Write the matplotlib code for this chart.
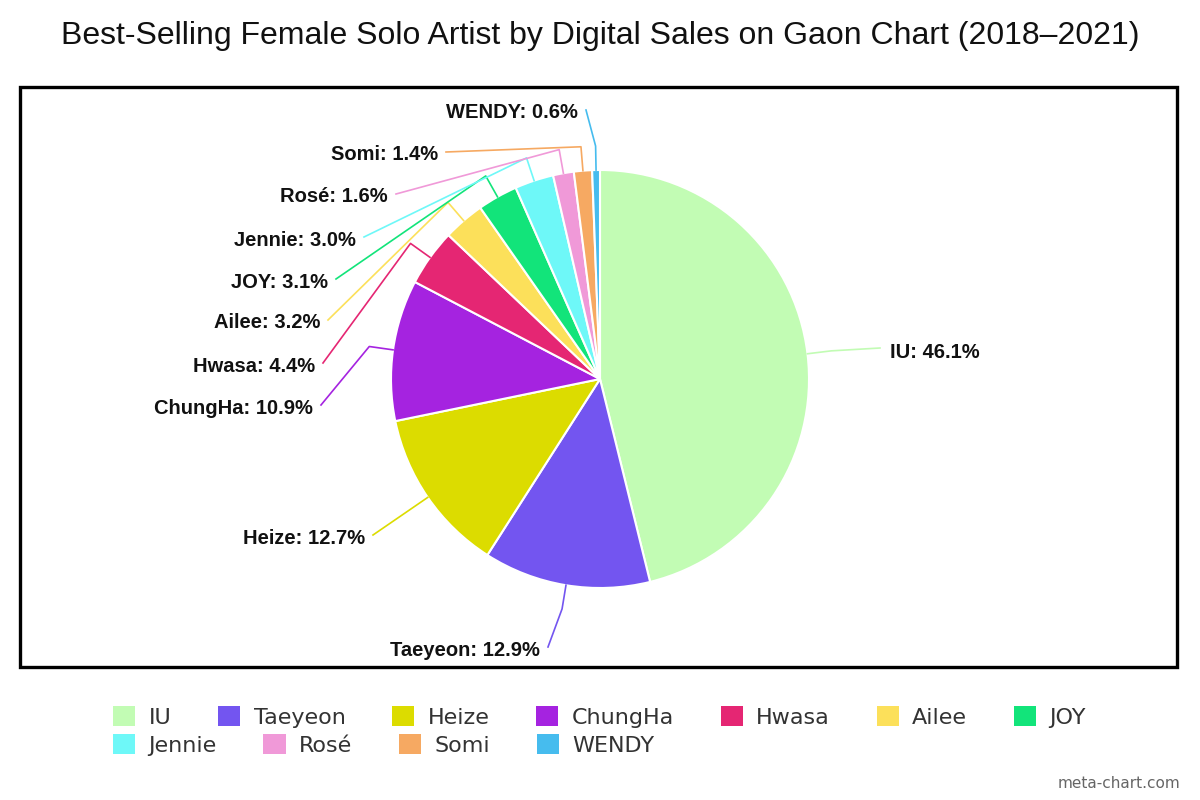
import matplotlib
matplotlib.use("Agg")

import matplotlib.pyplot as plt
import numpy as np
from matplotlib.patches import Rectangle

# data
artists = ["IU", "Taeyeon", "Heize", "ChungHa", "Hwasa", "Ailee", "JOY",
           "Jennie", "Rosé", "Somi", "WENDY"]
shares = [46.1, 12.9, 12.7, 10.9, 4.4, 3.2, 3.1, 3.0, 1.6, 1.4, 0.6]
colors = ["#c2fcb4", "#7355f0", "#dcdc00", "#a523e0", "#e52673", "#fce05a",
          "#12e47a", "#6ef8f8", "#f099d8", "#f6a962", "#46bcee"]

# label anchors in pixel coords (top-left origin): x, y, alignment
label_pos = [
    (890, 352, "left"),
    (540, 650, "right"),
    (365, 538, "right"),
    (313, 408, "right"),
    (315, 366, "right"),
    (320, 323, "right"),
    (328, 282, "right"),
    (356, 240, "right"),
    (388, 197, "right"),
    (438, 155, "right"),
    (578, 113, "right"),
]

W, H = 1200, 800
cx, cy, R = 600, 379, 209

fig = plt.figure(figsize=(12, 8), dpi=100)
ax = fig.add_axes([0, 0, 1, 1])


def fy(y):
    return H - y


wedges, _ = ax.pie(shares, colors=colors, startangle=90, counterclock=False,
                   center=(cx, fy(cy)), radius=R,
                   wedgeprops=dict(edgecolor="white", linewidth=1.5))
ax.set_xlim(0, W)
ax.set_ylim(0, H)
ax.set_aspect("equal")
ax.axis("off")

# outer frame
ax.add_patch(Rectangle((20, fy(667)), 1157, 580, fill=False,
                       edgecolor="black", linewidth=2.4, clip_on=False))

# title
ax.text(600, fy(44), "Best-Selling Female Solo Artist by Digital Sales on Gaon Chart (2018–2021)",
        ha="center", va="baseline", fontsize=23, family="Liberation Sans", color="#111111")

# labels with leader lines
total = sum(shares)
cum = 0
for name, v, col, (lx, ly, ha) in zip(artists, shares, colors, label_pos):
    mid = 90 - 360 * (cum + v / 2) / total
    cum += v
    t = np.deg2rad(mid)
    ax_, ay_ = cx + R * np.cos(t), fy(cy) + R * np.sin(t)
    bx, by = cx + (R + 24) * np.cos(t), fy(cy) + (R + 24) * np.sin(t)
    if ha == "right":
        ex, ey = lx + 8, fy(ly - 3)
    else:
        ex, ey = lx - 10, fy(ly - 4)
    ax.plot([ax_, bx, ex], [ay_, by, ey], color=col, lw=1.2,
            solid_joinstyle="round")
    ax.text(lx, fy(ly), f"{name}: {v}%", ha=ha, va="center", fontsize=14.5,
            fontweight="bold", family="Liberation Sans", color="#111111")

# legend, two rows laid out like a flow
handles = [Rectangle((0, 0), 1, 1, facecolor=c, edgecolor="none") for c in colors]
leg_kw = dict(frameon=False, handlelength=1.0, handleheight=1.0,
              handletextpad=0.6, columnspacing=2.1, borderaxespad=0,
              borderpad=0, prop={"family": "DejaVu Sans", "size": 16},
              labelcolor="#333333")
leg1 = ax.legend(handles[:7], artists[:7], ncol=7, loc="upper left",
                 bbox_to_anchor=(113 / W, 1 - 706 / H), **leg_kw)
ax.add_artist(leg1)
ax.legend(handles[7:], artists[7:], ncol=4, loc="upper left",
          bbox_to_anchor=(113 / W, 1 - 734 / H), **leg_kw)

ax.text(1180, fy(783), "meta-chart.com", ha="right", va="center", fontsize=11,
        family="DejaVu Sans", color="#666666")

fig.savefig("out.png", dpi=100)
